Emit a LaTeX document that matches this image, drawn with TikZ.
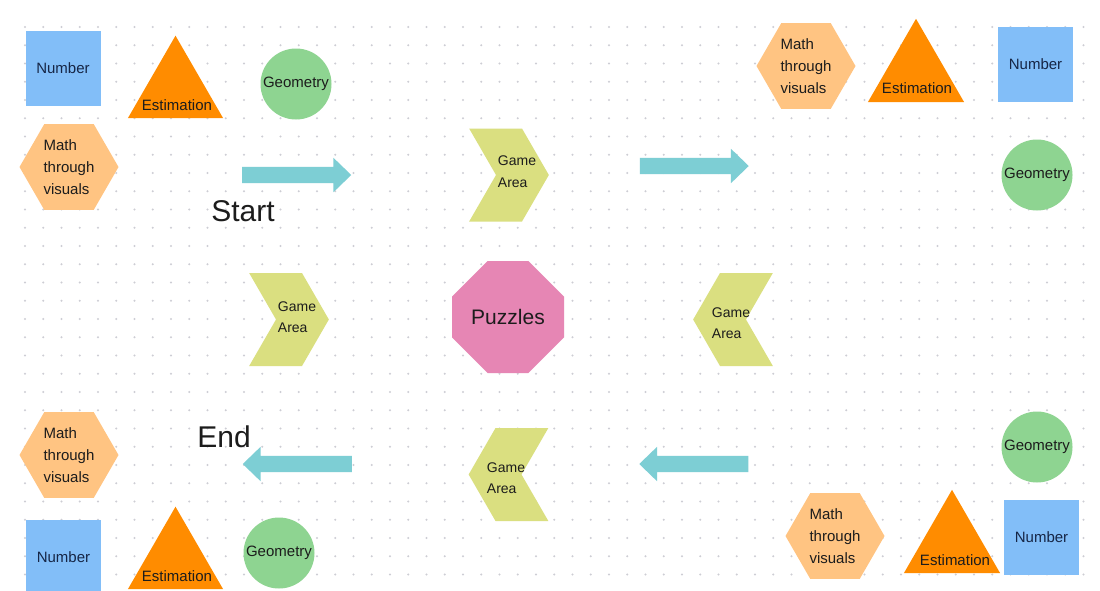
\documentclass[tikz,border=0pt]{standalone}
\usepackage{fontspec}
\setmainfont{Liberation Sans}
\usepackage{xcolor}
\usepackage{tikz}
\usetikzlibrary{shapes.geometric, shapes.misc, shapes.symbols, shapes.arrows}

\definecolor{numblue}{RGB}{130,190,248}
\definecolor{estorange}{RGB}{255,140,0}
\definecolor{geogreen}{RGB}{142,212,145}
\definecolor{hexorange}{RGB}{255,196,130}
\definecolor{chevyellow}{RGB}{218,223,128}
\definecolor{puzpink}{RGB}{230,134,180}
\definecolor{arrowteal}{RGB}{125,206,212}
\definecolor{dotgray}{RGB}{205,205,212}
\definecolor{ink}{RGB}{28,28,28}
\definecolor{numink}{RGB}{22,38,70}

\tikzset{every node/.append style={font=\fontsize{15}{21.7}\selectfont, text=ink, inner sep=0pt}}
\tikzset{
  numbox/.style={rectangle, fill=numblue, minimum size=75pt, text=numink},
  esttri/.style={regular polygon, regular polygon sides=3, fill=estorange, minimum size=110pt},
  geocirc/.style={circle, fill=geogreen, minimum size=71pt},
  mathhex/.style={regular polygon, regular polygon sides=6, fill=hexorange, minimum size=99pt, align=left},
  gamechev/.style={signal, signal from=west, signal to=east, signal pointer angle=120,
    fill=chevyellow, inner xsep=13pt, inner ysep=0pt, minimum height=93pt},
  gamechevl/.style={gamechev, signal from=east, signal to=west},
  gametext/.style={align=left, font=\fontsize{14}{21.5}\selectfont},
  blockarrow/.style={single arrow, single arrow head extend=9pt, single arrow tip angle=88,
    inner xsep=0pt, inner ysep=8pt, fill=arrowteal, minimum width=34pt, minimum height=109pt},
  blockarrowl/.style={blockarrow, shape border rotate=180},
  bigword/.style={font=\fontsize{30}{36}\selectfont}
}

\begin{document}
\begin{tikzpicture}[x=1pt, y=-1pt]
    \fill[white] (0,0) rectangle (1100,590);
    \useasboundingbox (0,0) rectangle (1100,590);
    % dotted board
    \foreach \i in {0,...,58}
      \foreach \j in {0,...,30}
        \fill[dotgray] (25+18.25*\i, 27+18.25*\j) circle (1.1pt);
    % top left corner
    \node[numbox] (numTL) at (63,68) {Number};
    \node[esttri] (estTL) at (175.5,90.7) {};
    \node (estTLtext) at (177,105) {Estimation};
    \node[geocirc] (geoTL) at (296,84) {Geometry};
    \node[mathhex] (hexTL) at (69,167) {Math\\through\\visuals};
    % start of the path
    \node[blockarrow] (arrA) at (292.5,175) {};
    \node[bigword] (start) at (243,211) {Start};
    \node[gamechev] (gameA) at (509,175) {};
    \node[gametext] (gameAtext) at (517,171.5) {Game\\Area};
    \node[blockarrow] (arrB) at (690,166) {};
    % top right corner
    \node[mathhex] (hexTR) at (806,66) {Math\\through\\visuals};
    \node[esttri, minimum size=111pt] (estTR) at (916,74.3) {};
    \node (estTRtext) at (917,88) {Estimation};
    \node[numbox] (numTR) at (1035.5,64.5) {Number};
    \node[geocirc] (geoTR) at (1037,175) {Geometry};
    % middle row
    \node[gamechev] (gameB) at (289,319.5) {};
    \node[gametext] (gameBtext) at (297,317) {Game\\Area};
    \node[chamfered rectangle, chamfered rectangle xsep=28pt, chamfered rectangle ysep=28pt,
      fill=puzpink, minimum width=112pt, minimum height=112pt,
      font=\fontsize{21}{25}\selectfont] (puzzles) at (508,317) {Puzzles};
    \node[gamechevl] (gameC) at (733,319.5) {};
    \node[gametext] (gameCtext) at (731,323) {Game\\Area};
    % way back
    \node[bigword] (end) at (224,437) {End};
    \node[blockarrowl] (arrC) at (301.5,464) {};
    \node[gamechevl] (gameD) at (508.5,474.5) {};
    \node[gametext] (gameDtext) at (506,478) {Game\\Area};
    \node[blockarrowl] (arrD) at (698,464) {};
    % bottom right corner
    \node[geocirc] (geoBR) at (1037,447) {Geometry};
    \node[mathhex] (hexBR) at (835,536) {Math\\through\\visuals};
    \node[esttri, minimum size=111pt] (estBR) at (952,545.3) {};
    \node (estBRtext) at (955,560) {Estimation};
    \node[numbox] (numBR) at (1041.5,537) {Number};
    % bottom left corner
    \node[mathhex] (hexBL) at (69,455) {Math\\through\\visuals};
    \node[numbox] (numBL) at (63.5,557) {Number};
    \node[esttri] (estBL) at (175.5,561.7) {};
    \node (estBLtext) at (177,576) {Estimation};
    \node[geocirc] (geoBL) at (279,553) {Geometry};
\end{tikzpicture}
\end{document}
